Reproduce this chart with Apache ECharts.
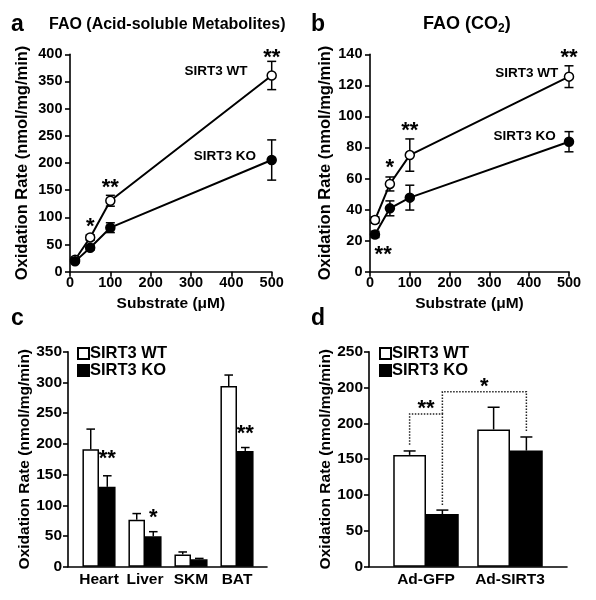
<!DOCTYPE html>
<html><head><meta charset="utf-8">
<script src="https://cdn.jsdelivr.net/npm/echarts@6/dist/echarts.min.js"></script>
<style>html,body{margin:0;padding:0;background:#fff}#c{width:596px;height:600px}</style>
</head><body><div id="c"></div>
<script>
// ---------- data ----------
// Panel a: FAO (acid-soluble metabolites)
const substrate = [12.5, 50, 100, 500];
const aWT = [22, 63, 130.5, 361];
const aWTerr = [4, 5, 10, 26];
const aKO = [19, 44, 81, 205.5];
const aKOerr = [3, 4, 9, 37];
// Panel b: FAO (CO2)
const bWT = [33.3, 56.5, 75.1, 125.6];
const bWTerr = [2, 4.5, 10.4, 7];
const bKO = [24, 40.8, 47.7, 83.7];
const bKOerr = [2, 4.8, 8, 6.5];
// Panel c: tissues
const tissues = ['Heart', 'Liver', 'SKM', 'BAT'];
const cWT = [191, 76.5, 20, 294];
const cWTerr = [33, 10, 4, 18];
const cKO = [130, 49.5, 12, 188.5];
const cKOerr = [18, 7.5, 1.5, 5.5];
// Panel d: adenovirus
const treatments = ['Ad-GFP', 'Ad-SIRT3'];
const dWT = [156, 191.5];
const dWTerr = [5.5, 31];
const dKO = [73.5, 162];
const dKOerr = [5.5, 19];
const dTickLabels = ['0', '50', '100', '150', '200', '200', '250'];
// significance marks: [x, y (data units), text]
const aStars = [[50, 92, '*'], [100, 164, '**'], [500, 403, '**']];
const bStars = [[50, 70, '*'], [100, 94, '**'], [500, 141, '**'], [33, 14, '**']];
// [category index, side (-1 WT, +1 KO), y, text]
const cStars = [[0, 1, 183.5, '**'], [1, 1, 87, '*'], [3, 1, 223.8, '**']];
// brackets: [fromCat, fromSide, toCat, toSide, lowFrom, high, lowTo, text]
const dBrackets = [[0, -1, 0, 1, 170, 213, 84, '**'], [0, 1, 1, 1, 213, 244, 188, '*']];

// ---------- chart ----------
const F = '"Liberation Sans", Arial, Helvetica, sans-serif';
const K = '#000';
const cGap = 0.28, dGap = 0.22;
const chart = echarts.init(document.getElementById('c'));

const tickLab = (sz, m) => ({color: K, fontFamily: F, fontWeight: 'bold', fontSize: sz, margin: m});
const nameSt = (sz) => ({color: K, fontFamily: F, fontWeight: 'bold', fontSize: sz});
const axLine = {show: true, lineStyle: {color: K, width: 1.6}};
const axTick = (len) => ({show: true, length: len, lineStyle: {color: K, width: 1.6}});

function errXY(idx, xs, ys, es) {
  return {type: 'custom', xAxisIndex: idx, yAxisIndex: idx, z: 1, silent: true,
    data: xs.map((x, i) => [x, ys[i], es[i]]),
    renderItem(params, api) {
      const x = api.value(0), y = api.value(1), e = api.value(2);
      const lo = api.coord([x, y - e]), hi = api.coord([x, y + e]);
      const c = 4.5, st = {stroke: K, lineWidth: 1.5};
      return {type: 'group', children: [
        {type: 'line', shape: {x1: lo[0], y1: lo[1], x2: hi[0], y2: hi[1]}, style: st},
        {type: 'line', shape: {x1: lo[0] - c, y1: lo[1], x2: lo[0] + c, y2: lo[1]}, style: st},
        {type: 'line', shape: {x1: hi[0] - c, y1: hi[1], x2: hi[0] + c, y2: hi[1]}, style: st}]};
    }};
}
function lineS(idx, name, xs, ys, fill, label, dist, dy) {
  return {type: 'line', name: name, xAxisIndex: idx, yAxisIndex: idx, z: 3,
    symbol: 'circle', symbolSize: 9, lineStyle: {color: K, width: 2},
    itemStyle: {color: fill, borderColor: K, borderWidth: 1.5},
    emphasis: {disabled: true},
    data: xs.map((x, i) => {
      const d = {value: [x, ys[i]]};
      if (i === xs.length - 1) d.label = {show: true, formatter: label, position: 'left',
        distance: dist, offset: [0, dy], color: K, fontFamily: F, fontWeight: 'bold', fontSize: 13.5};
      return d;
    })};
}
function starXY(idx, items) {
  return {type: 'custom', xAxisIndex: idx, yAxisIndex: idx, z: 4, silent: true,
    data: items.map(d => [d[0], d[1]]),
    renderItem(params, api) {
      const p = api.coord([api.value(0), api.value(1)]);
      return {type: 'text', x: p[0], y: p[1] + 5, style: {text: items[params.dataIndex][2], fill: K,
        font: 'bold 22px ' + F, align: 'center', verticalAlign: 'middle'}};
    }};
}
function barS(idx, name, vals, gap, fill) {
  return {type: 'bar', name: name, xAxisIndex: idx, yAxisIndex: idx, data: vals, z: 2,
    barGap: '0%', barCategoryGap: (gap * 100) + '%', emphasis: {disabled: true},
    itemStyle: {color: fill, borderColor: K, borderWidth: 1.5}};
}
function errBar(idx, vals, errs, side, gap, cap) {
  return {type: 'custom', xAxisIndex: idx, yAxisIndex: idx, z: 3, silent: true,
    data: vals.map((v, i) => [i, v, errs[i]]),
    renderItem(params, api) {
      const ci = api.value(0), v = api.value(1), e = api.value(2);
      const bw = api.size([1, 0])[0] * (1 - gap) / 2;
      const p = api.coord([ci, v]), t = api.coord([ci, v + e]);
      const x = p[0] + side * bw / 2, st = {stroke: K, lineWidth: 1.5};
      return {type: 'group', children: [
        {type: 'line', shape: {x1: x, y1: p[1], x2: x, y2: t[1]}, style: st},
        {type: 'line', shape: {x1: x - cap, y1: t[1], x2: x + cap, y2: t[1]}, style: st}]};
    }};
}
function starCat(idx, items, gap) {
  return {type: 'custom', xAxisIndex: idx, yAxisIndex: idx, z: 4, silent: true,
    data: items.map(d => [d[0], d[2]]),
    renderItem(params, api) {
      const it = items[params.dataIndex];
      const bw = api.size([1, 0])[0] * (1 - gap) / 2;
      const p = api.coord([api.value(0), api.value(1)]);
      return {type: 'text', x: p[0] + it[1] * bw / 2, y: p[1] + 5, style: {text: it[3], fill: K,
        font: 'bold 22px ' + F, align: 'center', verticalAlign: 'middle'}};
    }};
}
function brackets(idx, items, gap) {
  return {type: 'custom', xAxisIndex: idx, yAxisIndex: idx, z: 4, silent: true,
    data: items.map(d => [d[0], d[5]]),
    renderItem(params, api) {
      const b = items[params.dataIndex];
      const bw = api.size([1, 0])[0] * (1 - gap) / 2;
      const x1 = api.coord([b[0], 0])[0] + b[1] * bw / 2;
      const x2 = api.coord([b[2], 0])[0] + b[3] * bw / 2;
      const yl1 = api.coord([b[0], b[4]])[1], yh = api.coord([b[0], b[5]])[1], yl2 = api.coord([b[0], b[6]])[1];
      return {type: 'group', children: [
        {type: 'polyline', shape: {points: [[x1, yl1], [x1, yh], [x2, yh], [x2, yl2]]},
          style: {stroke: '#222', lineWidth: 1.5, lineDash: [1.5, 1.5], fill: null}},
        {type: 'text', x: (x1 + x2) / 2, y: yh - 10 + 5, style: {text: b[7], fill: K,
          font: 'bold 22px ' + F, align: 'center', verticalAlign: 'middle'}}]};
    }};
}

const hiddenAxis = (g) => ({gridIndex: g, type: 'value', min: 0, max: 1, show: false});
const baseLine = (g) => ({gridIndex: g, type: 'value', min: 0, max: 1, axisLine: axLine,
  axisTick: {show: false}, axisLabel: {show: false}, splitLine: {show: false}});

const option = {
  animation: false,
  backgroundColor: '#fff',
  grid: [
    {left: 70, top: 54.3, width: 201.7, height: 217.4},
    {left: 370, top: 54.3, width: 199, height: 217.4},
    {left: 76, top: 351.7, width: 184, height: 215},
    {left: 384, top: 351.7, width: 168, height: 215},
    {left: 68, top: 351.7, width: 199, height: 215},
    {left: 369, top: 351.7, width: 198, height: 215}
  ],
  legend: [0, 1].map(i => ({
    data: ['SIRT3 WT', 'SIRT3 KO'], orient: 'vertical', left: i ? 379 : 77, top: 345, padding: 0,
    itemWidth: 11, itemHeight: 11, itemGap: 0, icon: 'rect', selectedMode: false,
    textStyle: {color: K, fontFamily: F, fontWeight: 'bold', fontSize: 16.5, padding: [0, 0, 0, -4]}
  })),
  xAxis: [
    {gridIndex: 0, type: 'value', min: 0, max: 500, interval: 100, axisLine: axLine, axisTick: axTick(5),
      axisLabel: tickLab(14.5, 4), splitLine: {show: false},
      name: 'Substrate (μM)', nameLocation: 'middle', nameGap: 24, nameTextStyle: nameSt(15.5)},
    {gridIndex: 1, type: 'value', min: 0, max: 500, interval: 100, axisLine: axLine, axisTick: axTick(5),
      axisLabel: tickLab(14.5, 4), splitLine: {show: false},
      name: 'Substrate (μM)', nameLocation: 'middle', nameGap: 24, nameTextStyle: nameSt(15.5)},
    {gridIndex: 2, type: 'category', data: tissues, axisLine: {show: false}, axisTick: {show: false},
      axisLabel: Object.assign(tickLab(15.5, 5), {interval: 0})},
    {gridIndex: 3, type: 'category', data: treatments, axisLine: {show: false}, axisTick: {show: false},
      axisLabel: Object.assign(tickLab(15.5, 5), {interval: 0})},
    baseLine(4), baseLine(5)
  ],
  yAxis: [
    {gridIndex: 0, type: 'value', min: 0, max: 400, interval: 50, axisLine: axLine, axisTick: axTick(5),
      axisLabel: tickLab(14.5, 7.5), splitLine: {show: false},
      name: 'Oxidation Rate (nmol/mg/min)', nameLocation: 'middle', nameGap: 39, nameTextStyle: nameSt(16.5)},
    {gridIndex: 1, type: 'value', min: 0, max: 140, interval: 20, axisLine: axLine, axisTick: axTick(5),
      axisLabel: tickLab(14.5, 7.5), splitLine: {show: false},
      name: 'Oxidation Rate (nmol/mg/min)', nameLocation: 'middle', nameGap: 33, nameTextStyle: nameSt(16.5)},
    {gridIndex: 2, type: 'value', min: 0, max: 350, interval: 50, offset: 8, axisLine: axLine, axisTick: axTick(5),
      axisLabel: tickLab(15.5, 6), splitLine: {show: false},
      name: 'Oxidation Rate (nmol/mg/min)', nameLocation: 'middle', nameGap: 35, nameTextStyle: nameSt(15.5)},
    {gridIndex: 3, type: 'value', min: 0, max: 300, interval: 50, offset: 15, axisLine: axLine, axisTick: axTick(5),
      axisLabel: Object.assign(tickLab(15.5, 6), {formatter: v => dTickLabels[Math.round(v / 50)]}),
      splitLine: {show: false},
      name: 'Oxidation Rate (nmol/mg/min)', nameLocation: 'middle', nameGap: 34, nameTextStyle: nameSt(15.5)},
    hiddenAxis(4), hiddenAxis(5)
  ],
  graphic: [
    {type: 'text', left: 11, top: 13, style: {text: 'a', font: 'bold 23px ' + F, fill: K}},
    {type: 'text', left: 49, top: 17, style: {text: 'FAO (Acid-soluble Metabolites)', font: 'bold 16px ' + F, fill: K}},
    {type: 'text', left: 311, top: 13, style: {text: 'b', font: 'bold 23px ' + F, fill: K}},
    {type: 'text', left: 423, top: 15, style: {text: 'FAO (CO{s|2})', font: 'bold 18px ' + F, fill: K,
      rich: {s: {font: 'bold 12px ' + F, fill: K, padding: [9, 0, 0, 0]}}}},
    {type: 'text', left: 11, top: 307, style: {text: 'c', font: 'bold 23px ' + F, fill: K}},
    {type: 'text', left: 311, top: 307, style: {text: 'd', font: 'bold 23px ' + F, fill: K}}
  ],
  series: [
    errXY(0, substrate, aWT, aWTerr), errXY(0, substrate, aKO, aKOerr),
    lineS(0, 'WT-a', substrate, aWT, '#fff', 'SIRT3 WT', 19, -4),
    lineS(0, 'KO-a', substrate, aKO, K, 'SIRT3 KO', 10.5, -4),
    starXY(0, aStars),
    errXY(1, substrate, bWT, bWTerr), errXY(1, substrate, bKO, bKOerr),
    lineS(1, 'WT-b', substrate, bWT, '#fff', 'SIRT3 WT', 5.5, -3),
    lineS(1, 'KO-b', substrate, bKO, K, 'SIRT3 KO', 8, -5),
    starXY(1, bStars),
    barS(2, 'SIRT3 WT', cWT, cGap, '#fff'), barS(2, 'SIRT3 KO', cKO, cGap, K),
    errBar(2, cWT, cWTerr, -1, cGap, 4.3), errBar(2, cKO, cKOerr, 1, cGap, 4.3),
    starCat(2, cStars, cGap),
    barS(3, 'SIRT3 WT', dWT, dGap, '#fff'), barS(3, 'SIRT3 KO', dKO, dGap, K),
    errBar(3, dWT, dWTerr, -1, dGap, 6), errBar(3, dKO, dKOerr, 1, dGap, 6),
    brackets(3, dBrackets, dGap)
  ]
};
chart.setOption(option);
</script>
</body></html>
